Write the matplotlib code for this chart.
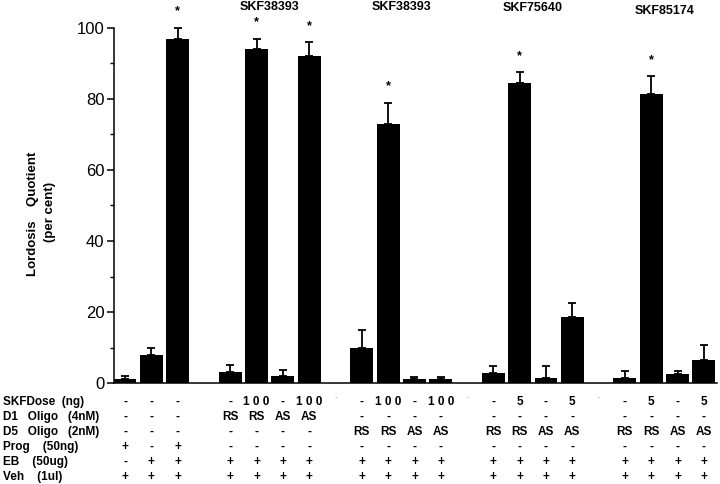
import matplotlib
matplotlib.use('Agg')
import matplotlib.pyplot as plt
import matplotlib.transforms as mtransforms
from matplotlib import font_manager
from matplotlib.ticker import MultipleLocator

# bar slots (gaps between treatment groups)
positions = [0, 1, 2, 4, 5, 6, 7, 9, 10, 11, 12, 14, 15, 16, 17, 19, 20, 21, 22]
values = [1.0, 8.0, 97.0, 3.0, 94.0, 2.0, 92.0, 10.0, 73.0, 1.0, 1.0,
          2.7, 84.5, 1.5, 18.6, 1.5, 81.4, 2.5, 6.6]
errors = [1.0, 2.0, 3.0, 2.2, 3.0, 1.7, 4.0, 5.0, 6.0, 0.7, 0.7,
          2.2, 3.0, 3.3, 4.0, 2.0, 5.0, 1.0, 4.0]
starred = [2, 4, 6, 8, 12, 16]

drug_names = ['SKF38393', 'SKF38393', 'SKF75640', 'SKF85174']
drug_groups = [[4, 5, 6, 7], [9, 10, 11, 12], [14, 15, 16, 17], [19, 20, 21, 22]]

row_labels = ['SKFDose  (ng)', 'D1   Oligo   (4nM)', 'D5   Oligo   (2nM)',
              'Prog    (50ng)', 'EB    (50ug)', 'Veh    (1ul)']
skf_dose = ['-', '-', '-', '-', '1 0 0', '-', '1 0 0', '-', '1 0 0', '-', '1 0 0',
            '-', '5', '-', '5', '-', '5', '-', '5']
d1_oligo = ['-', '-', '-', 'RS', 'RS', 'AS', 'AS', '-', '-', '-', '-',
            '-', '-', '-', '-', '-', '-', '-', '-']
d5_oligo = ['-', '-', '-', '-', '-', '-', '-', 'RS', 'RS', 'AS', 'AS',
            'RS', 'RS', 'AS', 'AS', 'RS', 'RS', 'AS', 'AS']
prog = ['+', '-', '+'] + ['-'] * 16
eb = ['-', '+', '+'] + ['+'] * 16
veh = ['+'] * 19
table_rows = [skf_dose, d1_oligo, d5_oligo, prog, eb, veh]
stray_dots = [8, 13, 18]

names = {f.name for f in font_manager.fontManager.ttflist}
narrow = 'Liberation Sans Narrow' if 'Liberation Sans Narrow' in names else 'Liberation Sans'
plt.rcParams['font.family'] = 'Liberation Sans'

fig = plt.figure(figsize=(7.2, 4.84), dpi=100)
ax = fig.add_axes([114 / 720, 1 - 383 / 484, (717 - 114) / 720, (383 - 28) / 484])

ax.bar(positions, values, width=0.87, color='black', zorder=2)
ax.errorbar(positions, values, yerr=[[0] * len(errors), errors], fmt='none',
            ecolor='black', elinewidth=1.3, capsize=2.8, capthick=1.3,
            clip_on=False, zorder=3)

for i in starred:
    ax.text(positions[i], values[i] + errors[i] + 4.6, '*', ha='center', va='center',
            fontsize=9, fontweight='bold', clip_on=False)

drug_y = [106.0, 106.0, 105.6, 104.8]
for name, grp, yy in zip(drug_names, drug_groups, drug_y):
    ax.text(sum(grp) / len(grp), yy, name, ha='center', va='center', fontsize=9,
            fontweight='bold', family=narrow, clip_on=False)

ax.set_xlim(-0.42, 22.5)
ax.set_ylim(0, 100)
ax.spines['top'].set_visible(False)
ax.spines['right'].set_visible(False)
ax.spines['left'].set_linewidth(1.1)
ax.spines['bottom'].set_linewidth(1.1)
ax.set_xticks([])
ax.yaxis.set_major_locator(MultipleLocator(20))
ax.yaxis.set_minor_locator(MultipleLocator(10))
ax.tick_params(axis='y', which='major', length=5, width=1.1, labelsize=12, pad=2)
ax.tick_params(axis='y', which='minor', length=3, width=1.0)

fig.text(33 / 720, 1 - 214 / 484, 'Lordosis    Quotient', rotation=90, ha='center',
         va='center', fontsize=9.5, fontweight='bold')
fig.text(50 / 720, 1 - 212 / 484, '(per cent)', rotation=90, ha='center',
         va='center', fontsize=9.5, fontweight='bold')

trans = mtransforms.blended_transform_factory(ax.transData, fig.transFigure)
row_y = [402, 417, 432, 447, 462, 477]
for label, row, py in zip(row_labels, table_rows, row_y):
    fy = 1 - py / 484
    fig.text(3 / 720, fy, label, ha='left', va='center', fontsize=8.5,
             fontweight='bold', family=narrow)
    for p, v in zip(positions, row):
        ax.text(p, fy, v, transform=trans, ha='center', va='center', fontsize=8.5,
                fontweight='bold', family=narrow, clip_on=False)
for p in stray_dots:
    ax.text(p, 1 - 396 / 484, '.', transform=trans, ha='center', va='center',
            fontsize=6, color='0.4', clip_on=False)

fig.savefig('out.png', dpi=100)
